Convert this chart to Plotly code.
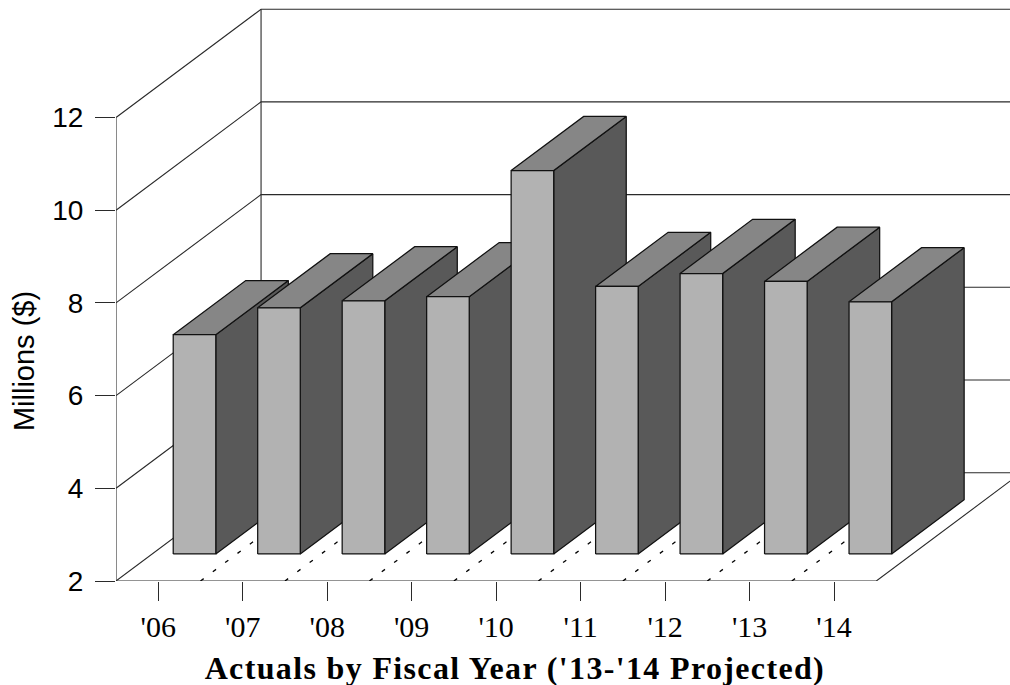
import plotly.graph_objects as go

# Fiscal-year spending, millions of dollars
fiscal_years = ["'06", "'07", "'08", "'09", "'10", "'11", "'12", "'13", "'14"]
millions = [6.73, 7.31, 7.46, 7.55, 10.27, 7.77, 8.05, 7.88, 7.44]
value_ticks = [2, 4, 6, 8, 10, 12]

WIDTH, HEIGHT = 1010, 685
LEFT, BOTTOM = 116.4, 581.0
PX_PER_CATEGORY = 84.44
PX_PER_MILLION = 46.35
VALUE_FLOOR = 2

# Oblique projection: the full depth of the box shifts right and up by this much
DEPTH_X = 145 / PX_PER_CATEGORY
DEPTH_Y = 108.3 / PX_PER_MILLION

BAR_WIDTH = 0.504
BAR_DEPTH_START = 0.25
BAR_DEPTH_END = 0.75

FRONT, TOP, SIDE = "#b2b2b2", "#868686", "#595959"
EDGE = "#111111"
RULE = "#2a2a2a"
SANS = "Liberation Sans, Arial, sans-serif"
SERIF = "Liberation Serif, Times New Roman, serif"


def project(x, value, depth=0.0):
    """Map a point of the 3D box onto the flat axes."""
    return x + depth * DEPTH_X, value + depth * DEPTH_Y


def polyline(points, color=RULE, width=1.1, dash=None, fill=None):
    xs, ys = zip(*points)
    trace = dict(x=xs, y=ys, mode="lines", hoverinfo="skip", showlegend=False,
                 line=dict(color=color, width=width, dash=dash or "solid"))
    if fill:
        trace.update(fill="toself", fillcolor=fill)
    return go.Scatter(**trace)


fig = go.Figure()
count = len(fiscal_years)
top_value = value_ticks[-1]

# Left wall, back wall and gridlines running round both
fig.add_trace(polyline([project(0, VALUE_FLOOR), project(0, top_value)]))
fig.add_trace(polyline([project(0, VALUE_FLOOR, 1), project(0, top_value, 1)]))
for tick in value_ticks:
    fig.add_trace(polyline([project(0, tick), project(0, tick, 1), project(count, tick, 1)]))

# Floor outline and the dashed category boundaries across it
fig.add_trace(polyline([project(0, VALUE_FLOOR), project(count, VALUE_FLOOR),
                        project(count, VALUE_FLOOR, 1)]))
for boundary in range(1, count):
    fig.add_trace(polyline([project(boundary, VALUE_FLOOR), project(boundary, VALUE_FLOOR, 1)],
                           color="#000000", width=1.3, dash="4px,11.4px"))

# Bars, left to right so each one overlaps the side of its neighbour
for index, value in enumerate(millions):
    x0 = index + 0.5 - BAR_WIDTH / 2
    x1 = index + 0.5 + BAR_WIDTH / 2
    d0, d1 = BAR_DEPTH_START, BAR_DEPTH_END
    top_face = [project(x0, value, d0), project(x0, value, d1), project(x1, value, d1),
                project(x1, value, d0), project(x0, value, d0)]
    side_face = [project(x1, VALUE_FLOOR, d0), project(x1, VALUE_FLOOR, d1), project(x1, value, d1),
                 project(x1, value, d0), project(x1, VALUE_FLOOR, d0)]
    front_face = [project(x0, VALUE_FLOOR, d0), project(x1, VALUE_FLOOR, d0), project(x1, value, d0),
                  project(x0, value, d0), project(x0, VALUE_FLOOR, d0)]
    fig.add_trace(polyline(side_face, color=EDGE, width=1.25, fill=SIDE))
    fig.add_trace(polyline(top_face, color=EDGE, width=1.25, fill=TOP))
    fig.add_trace(polyline(front_face, color=EDGE, width=1.25, fill=FRONT))

x_right = (WIDTH - LEFT) / PX_PER_CATEGORY
y_top = VALUE_FLOOR + BOTTOM / PX_PER_MILLION

fig.update_layout(
    width=WIDTH, height=HEIGHT,
    margin=dict(l=LEFT, r=0, t=0, b=HEIGHT - BOTTOM, pad=0),
    paper_bgcolor="white", plot_bgcolor="white",
    xaxis=dict(range=[0, x_right], showgrid=False, zeroline=False, showline=False,
               tickmode="array", tickvals=[i + 0.5 for i in range(count)], ticktext=fiscal_years,
               ticks="outside", ticklen=19, tickwidth=1, tickcolor=RULE, ticklabelstandoff=0,
               tickfont=dict(family=SERIF, size=30, color="#000000")),
    yaxis=dict(range=[VALUE_FLOOR, y_top], showgrid=False, zeroline=False, showline=False,
               tickmode="array", tickvals=value_ticks,
               ticks="outside", ticklen=20, tickwidth=1, tickcolor=RULE, ticklabelstandoff=6,
               tickfont=dict(family=SANS, size=28, color="#000000")),
    annotations=[
        dict(text="Millions ($)", textangle=-90, xref="paper", yref="y", x=0,
             xshift=24 - LEFT, y=VALUE_FLOOR + (BOTTOM - 361.5) / PX_PER_MILLION,
             showarrow=False, xanchor="center", yanchor="middle",
             font=dict(family=SANS, size=29, color="#000000")),
        dict(text="<b>Actuals by Fiscal Year ('13-'14 Projected)</b>", xref="x", yref="paper",
             x=(515.5 - LEFT) / PX_PER_CATEGORY, y=0, yshift=BOTTOM - 667.5,
             showarrow=False, xanchor="center", yanchor="middle",
             font=dict(family=SERIF, size=32, color="#000000")),
    ],
)

# The axis caption is set with open letter spacing
spacing_script = """
document.querySelectorAll('.annotation-text').forEach(function (node) {
  if (node.textContent.indexOf('Actuals') === 0) { node.style.letterSpacing = '1.35px'; }
});
"""

fig.write_html("out.html", config=dict(displayModeBar=False), post_script=spacing_script)
